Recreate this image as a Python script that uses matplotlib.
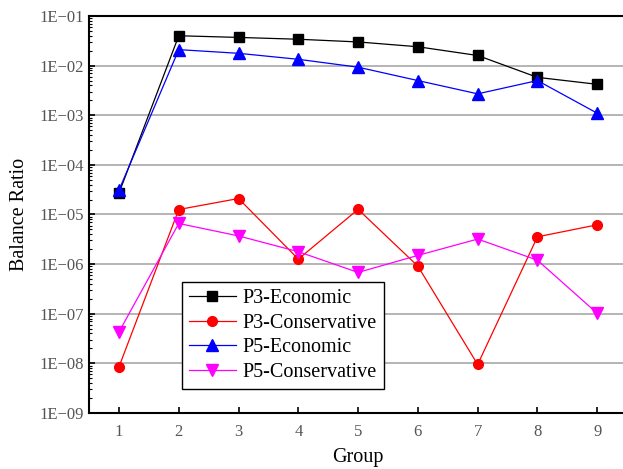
import numpy as np
import matplotlib
matplotlib.use("Agg")
import matplotlib.pyplot as plt
from matplotlib.ticker import LogLocator, FuncFormatter, NullFormatter

plt.rcParams['font.family'] = ['Liberation Serif', 'DejaVu Serif']

# data
groups = [1, 2, 3, 4, 5, 6, 7, 8, 9]
p3_eco = [2.7e-5, 4.0e-2, 3.7e-2, 3.4e-2, 3.0e-2, 2.4e-2, 1.6e-2, 5.8e-3, 4.2e-3]
p3_con = [8.5e-9, 1.26e-5, 2.1e-5, 1.26e-6, 1.27e-5, 9.1e-7, 9.5e-9, 3.55e-6, 6.2e-6]
p5_eco = [3.1e-5, 2.1e-2, 1.77e-2, 1.34e-2, 9.3e-3, 5.0e-3, 2.7e-3, 5.0e-3, 1.1e-3]
p5_con = [4.3e-8, 6.6e-6, 3.7e-6, 1.78e-6, 6.8e-7, 1.5e-6, 3.2e-6, 1.2e-6, 1.02e-7]

fig = plt.figure(figsize=(6.23, 4.69), dpi=100)
# right edge of the axes runs past the figure (cropped in the original)
ax = fig.add_axes([0.143, 0.1194, 0.8636, 0.8465])

ax.plot(groups, p3_eco, color='black', lw=0.9, marker='s', ms=6.5, label='P3-Economic', zorder=3)
ax.plot(groups, p3_con, color='red', lw=0.9, marker='o', ms=7, label='P3-Conservative', zorder=3)
ax.plot(groups, p5_eco, color='blue', lw=0.9, marker='^', ms=8, label='P5-Economic', zorder=3)
ax.plot(groups, p5_con, color='magenta', lw=0.9, marker='v', ms=8, label='P5-Conservative', zorder=3)

ax.set_yscale('log')
ax.set_ylim(1e-9, 1e-1)
ax.set_xlim(0.5, 9.5)
ax.set_xticks(groups)

ax.yaxis.set_major_locator(LogLocator(base=10, numticks=20))
ax.yaxis.set_minor_locator(LogLocator(base=10, subs=np.arange(2, 10), numticks=20))
ax.yaxis.set_minor_formatter(NullFormatter())
ax.yaxis.set_major_formatter(FuncFormatter(lambda v, p: '1E\u2212%02d' % round(-np.log10(v))))

ax.grid(axis='y', which='major', color='#a8a8a8', lw=1.2, zorder=0)
ax.set_axisbelow(True)

for s in ['left', 'bottom', 'top']:
    ax.spines[s].set_linewidth(1.5)
ax.spines['right'].set_visible(False)

ax.tick_params(axis='both', which='major', direction='in', length=4, width=1.2,
               labelsize=12, labelcolor='#555555')
ax.tick_params(axis='y', which='minor', direction='in', length=2.5, width=0.8)
ax.tick_params(axis='x', pad=8)

ax.set_xlabel('Group', fontsize=14.5, labelpad=6)
ax.set_ylabel('Balance Ratio', fontsize=14.5, labelpad=8)

leg = ax.legend(loc='upper left', bbox_to_anchor=(0.173, 0.33), borderaxespad=0,
                fontsize=14.5, handlelength=2.3, labelspacing=0.27, handletextpad=0.35,
                borderpad=0.35, fancybox=False, framealpha=1, edgecolor='black')
leg.get_frame().set_linewidth(1.0)

fig.savefig('out.png', dpi=100)
